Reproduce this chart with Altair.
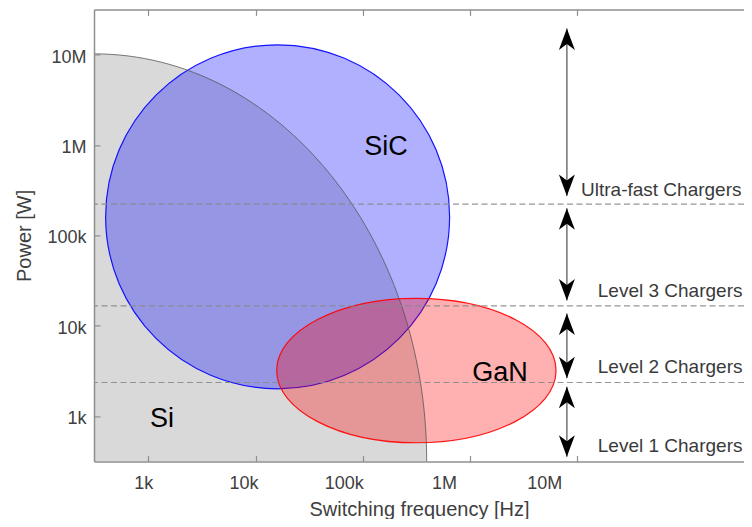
import altair as alt
import pandas as pd

# ---------------- values ----------------
tick_values = [1e3, 1e4, 1e5, 1e6, 1e7]

region_names = ["Si", "SiC", "GaN"]
region_center_f = [311.9, 1.607e4, 3.16e5]
region_center_p = [316.2, 1.607e5, 3.2e3]
region_label_f = [1.343e3, 1.648e5, 1.905e6]
region_label_p = [938, 9.58e5, 3.0e3]

charger_names = ["Ultra-fast Chargers", "Level 3 Chargers",
                 "Level 2 Chargers", "Level 1 Chargers"]
charger_label_f = [1.084e7, 1.553e7, 1.553e7, 1.553e7]
charger_label_p = [3.2e5, 2.43e4, 3.46e3, 469]

boundary_p = [2.22e5, 1.66e4, 2.36e3]

arrow_f = [8.0e6, 8.0e6, 8.0e6, 8.0e6]
arrow_top_p = [1.94e7, 2.0e5, 1.37e4, 2.12e3]
arrow_bottom_p = [2.73e5, 1.9e4, 2.63e3, 356]

W, H = 650, 452
X_DOMAIN = [10 ** 2.494, 10 ** (2.494 + W / 107.25)]
Y_DOMAIN = [10 ** 2.5, 10 ** 7.5]

# ---------------- tables ----------------
df_regions = pd.DataFrame({"name": region_names, "f": region_center_f, "p": region_center_p})
df_si = df_regions[df_regions["name"] == "Si"]
df_sic = df_regions[df_regions["name"] == "SiC"]
df_gan = df_regions[df_regions["name"] == "GaN"]
df_rlab = pd.DataFrame({"name": region_names, "f": region_label_f, "p": region_label_p})
df_clab = pd.DataFrame({"name": charger_names, "f": charger_label_f, "p": charger_label_p})
df_bound = pd.DataFrame({"p": boundary_p})
df_arrow = pd.DataFrame({"f": arrow_f, "top": arrow_top_p, "bottom": arrow_bottom_p})

FONT = "Liberation Sans"
FRAME = "#8f8f8f"
TXT = "#404040"

SI_PATH = "M-1,0A1,1.225 0 1,1 1,0A1,1.225 0 1,1 -1,0Z"
SIC_PATH = "M-1,0A1,1 0 1,1 1,0A1,1 0 1,1 -1,0Z"
GAN_PATH = "M-1,0A1,0.517 0 1,1 1,0A1,0.517 0 1,1 -1,0Z"
UP_PATH = "M0,0L0.8,2.15L0,1.55L-0.8,2.15Z"
DOWN_PATH = "M0,0L0.8,-2.15L0,-1.55L-0.8,-2.15Z"


def xs():
    return alt.Scale(type="log", domain=X_DOMAIN, nice=False)


def ys():
    return alt.Scale(type="log", domain=Y_DOMAIN, nice=False)


axis_x_main = alt.Axis(
    orient="bottom", values=tick_values, format="~s", ticks=False,
    domain=True, domainColor=FRAME, domainWidth=1.5, grid=False,
    labelFont=FONT, labelFontSize=18, labelColor=TXT, labelPadding=13,
    labelOffset={"expr": "-5 - 7 * (log(datum.value) / LN10 - 3)"},
    labelFlush=False, labelOverlap=False,
    title="Switching frequency [Hz]", titleFont=FONT, titleFontSize=20,
    titleFontWeight="normal", titleColor=TXT, titlePadding=7, zindex=1)

axis_y_main = alt.Axis(
    orient="left", values=tick_values, format="~s", ticks=False,
    domain=True, domainColor=FRAME, domainWidth=1.5, grid=False,
    labelFont=FONT, labelFontSize=18, labelColor=TXT, labelPadding=8,
    labelOffset=2.5, labelFlush=False, labelOverlap=False,
    title="Power [W]", titleFont=FONT, titleFontSize=20,
    titleFontWeight="normal", titleColor=TXT, titlePadding=12, zindex=1)

axis_ticks_bottom = alt.Axis(
    orient="top", offset=-H, values=tick_values, labels=False, domain=False,
    ticks=True, tickSize=6, tickColor=FRAME, tickWidth=1.2, grid=False,
    title=None, zindex=1)

axis_ticks_top = alt.Axis(
    orient="bottom", offset=-H, values=tick_values, labels=False,
    domain=True, domainColor=FRAME, domainWidth=1.5,
    ticks=True, tickSize=6, tickColor=FRAME, tickWidth=1.2, grid=False,
    title=None, zindex=1)

axis_ticks_left = alt.Axis(
    orient="right", offset=-W, values=tick_values, labels=False, domain=False,
    ticks=True, tickSize=6, tickColor=FRAME, tickWidth=1.2, grid=False,
    title=None, zindex=1)

si_fill = alt.Chart(df_si).mark_point(
    shape=SI_PATH, size=665.4 ** 2, filled=True, fill="#d9d9d9",
    fillOpacity=1, strokeOpacity=0, opacity=1, clip=True
).encode(
    x=alt.X("f:Q", scale=xs(), axis=axis_x_main),
    y=alt.Y("p:Q", scale=ys(), axis=axis_y_main),
)

sic = alt.Chart(df_sic).mark_point(
    shape=SIC_PATH, size=344 ** 2, filled=True, fill="#0000ff",
    fillOpacity=0.31, stroke="#0000ff", strokeWidth=1.2, strokeOpacity=0.9,
    opacity=1, clip=True
).encode(
    x=alt.X("f:Q", scale=xs(), axis=axis_ticks_bottom),
    y=alt.Y("p:Q", scale=ys(), axis=axis_ticks_left),
)

gan = alt.Chart(df_gan).mark_point(
    shape=GAN_PATH, size=279.4 ** 2, filled=True, fill="#ff0000",
    fillOpacity=0.31, stroke="#ff0000", strokeWidth=1.2, strokeOpacity=0.9,
    opacity=1, clip=True
).encode(
    x=alt.X("f:Q", scale=xs(), axis=axis_ticks_top),
    y=alt.Y("p:Q", scale=ys(), axis=None),
)

si_line = alt.Chart(df_si).mark_point(
    shape=SI_PATH, size=665.4 ** 2, filled=False, fillOpacity=0,
    stroke="#505050", strokeWidth=1, strokeOpacity=0.75, opacity=1, clip=True
).encode(
    x=alt.X("f:Q", scale=xs(), axis=None),
    y=alt.Y("p:Q", scale=ys(), axis=None),
)

bounds = alt.Chart(df_bound).mark_rule(
    strokeDash=[6, 3.5], color="#8a8a8a", strokeWidth=1.2, opacity=0.9
).encode(y=alt.Y("p:Q", scale=ys(), axis=None))

shafts = alt.Chart(df_arrow).mark_rule(color="#707070", strokeWidth=1.5).encode(
    x=alt.X("f:Q", scale=xs(), axis=None),
    y=alt.Y("top:Q", scale=ys(), axis=None),
    y2="bottom:Q",
)

heads_up = alt.Chart(df_arrow).mark_point(
    shape=UP_PATH, size=400, filled=True, fill="black", opacity=1,
    strokeOpacity=0
).encode(
    x=alt.X("f:Q", scale=xs(), axis=None),
    y=alt.Y("top:Q", scale=ys(), axis=None),
)

heads_down = alt.Chart(df_arrow).mark_point(
    shape=DOWN_PATH, size=400, filled=True, fill="black", opacity=1,
    strokeOpacity=0
).encode(
    x=alt.X("f:Q", scale=xs(), axis=None),
    y=alt.Y("bottom:Q", scale=ys(), axis=None),
)

region_text = alt.Chart(df_rlab).mark_text(
    font=FONT, fontSize=27, color="black", align="center", baseline="middle"
).encode(
    x=alt.X("f:Q", scale=xs(), axis=None),
    y=alt.Y("p:Q", scale=ys(), axis=None),
    text="name:N",
)

charger_text = alt.Chart(df_clab).mark_text(
    font=FONT, fontSize=19, color="#3a3a3a", align="left", baseline="middle"
).encode(
    x=alt.X("f:Q", scale=xs(), axis=None),
    y=alt.Y("p:Q", scale=ys(), axis=None),
    text="name:N",
)

chart = alt.layer(
    si_fill, sic, gan, si_line, bounds, shafts, heads_up, heads_down,
    region_text, charger_text
).resolve_axis(
    x="independent", y="independent"
).properties(
    width=W, height=H,
    padding={"left": 86, "top": 1.4, "right": 0, "bottom": 57.6},
    autosize=alt.AutoSizeParams(type="none"),
).configure(
    font=FONT, view=alt.ViewConfig(stroke=None)
)

chart.save("out.html", embed_options={"renderer": "svg", "actions": False})
